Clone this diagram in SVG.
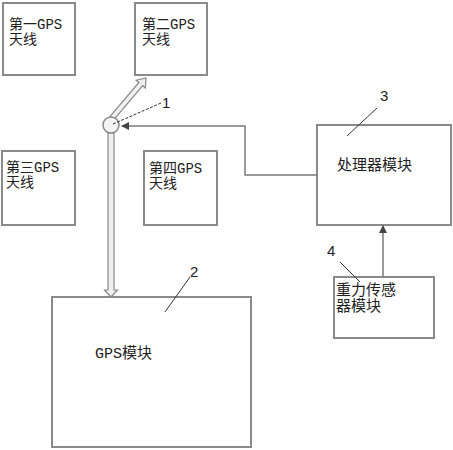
<svg xmlns="http://www.w3.org/2000/svg" width="453" height="450" viewBox="0 0 453 450">
<defs>
<style>
.box{fill:#fff;stroke:#8a8a8a;stroke-width:2}
.t{font-family:"Liberation Mono","Noto Sans CJK SC",monospace;font-size:14px;fill:#222}
.t2{font-family:"Liberation Mono","Noto Sans CJK SC",monospace;font-size:15px;fill:#222}
.num{font-family:"Liberation Sans",sans-serif;font-size:15px;fill:#222}
.ln{fill:none;stroke:#7a7a7a;stroke-width:1.5}
.lead{fill:none;stroke:#333;stroke-width:1}
.hollow{fill:#f0f0f0;stroke:#888;stroke-width:1.2;stroke-linejoin:miter}
</style>
<marker id="ah" markerWidth="8" markerHeight="8" refX="7" refY="4" orient="auto" markerUnits="userSpaceOnUse">
<path d="M0,0 L8,4 L0,8 Z" fill="#444"/>
</marker>
</defs>
<rect width="453" height="450" fill="#fff"/>
<g id="ant1"><rect class="box" x="3" y="3" width="72" height="72"/><text class="t" x="9" y="29">第一GPS</text><text class="t" x="9" y="44">天线</text></g>
<g id="ant2"><rect class="box" x="135" y="3" width="72" height="72"/><text class="t" x="142" y="29">第二GPS</text><text class="t" x="142" y="44">天线</text></g>
<g id="ant3"><rect class="box" x="2" y="151" width="73" height="74"/><text class="t" x="6" y="172">第三GPS</text><text class="t" x="6" y="187">天线</text></g>
<g id="ant4"><rect class="box" x="144" y="151" width="73" height="74"/><text class="t" x="149" y="173">第四GPS</text><text class="t" x="149" y="188">天线</text></g>
<g id="proc"><rect class="box" x="317" y="125" width="134" height="100"/><text class="t2" x="337" y="170">处理器模块</text></g>
<g id="grav"><rect class="box" x="334" y="277" width="100" height="61"/><text class="t2" x="336" y="295">重力传感</text><text class="t2" x="336" y="311">器模块</text></g>
<g id="gps"><rect class="box" x="52" y="297" width="199" height="150"/><text class="t2" x="95" y="358">GPS模块</text></g>
<g id="connectors">
<polygon class="hollow" points="108,133 108,290 104.5,290 111,297 117.5,290 114,290 114,133"/>
<polygon class="hollow" points="113.9,119.6 142.7,85.7 145.4,88 146,78 136.2,80.2 138.9,82.5 110.1,116.4"/>
<path class="ln" d="M317,175 H245 V126 H122" marker-end="url(#ah)"/>
<path class="ln" d="M383,277 V226" marker-end="url(#ah)"/>
</g>
<g id="switch"><circle cx="111" cy="125" r="8" fill="#f4f4f4" stroke="#888" stroke-width="1.5"/></g>
<g id="labels">
<path class="lead" d="M161,103 L113,124" stroke-dasharray="3,1.5"/>
<text class="num" x="162" y="108">1</text>
<path class="lead" d="M190,277 L165,312"/>
<text class="num" x="190" y="277">2</text>
<path class="lead" d="M377,108 L347,136"/>
<text class="num" x="380" y="101">3</text>
<path class="lead" d="M340,262 L360,282"/>
<text class="num" x="327" y="256">4</text>
</g>
</svg>
